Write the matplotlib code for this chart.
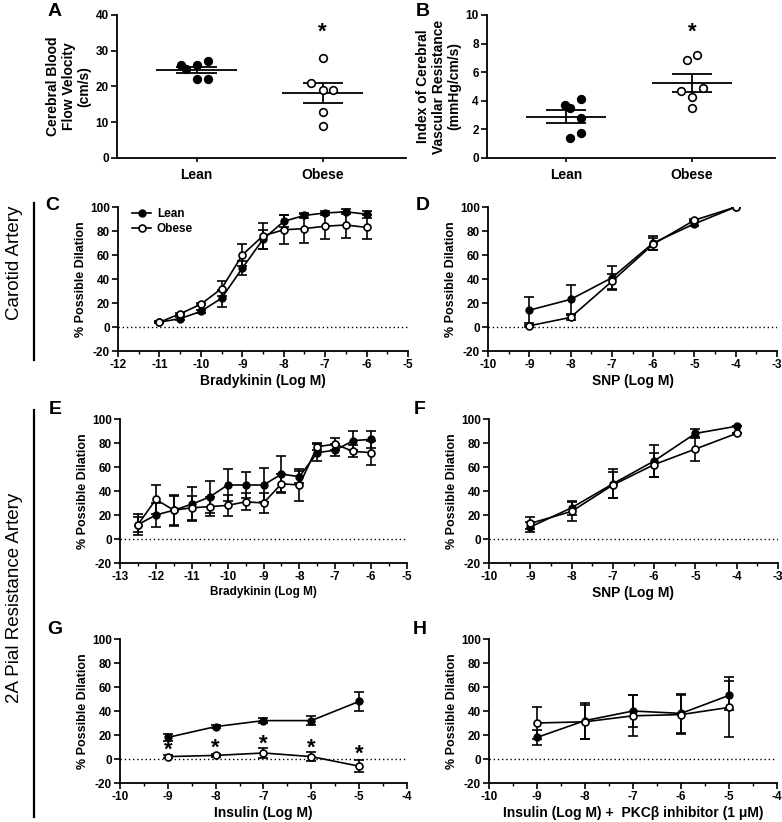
import matplotlib
matplotlib.use("Agg")
import matplotlib.pyplot as plt
import numpy as np
from matplotlib.lines import Line2D
from matplotlib.ticker import MultipleLocator

plt.rcParams["font.family"] = ["Liberation Sans", "DejaVu Sans"]
plt.rcParams["font.weight"] = "bold"
plt.rcParams["axes.labelweight"] = "bold"
plt.rcParams["axes.unicode_minus"] = False

W, H = 782, 822

# ---- panel A / B: individual animals ----
groups = ["Lean", "Obese"]
cbfv_lean = [26, 25, 26, 27, 22, 22]
cbfv_lean_dx = [-0.12, -0.08, 0.0, 0.09, 0.0, 0.09]
cbfv_obese = [28, 21, 19, 19, 13, 9]
cbfv_obese_dx = [0.0, -0.09, 0.0, 0.085, 0.0, 0.0]

cvr_lean = [3.68, 3.5, 4.15, 2.8, 1.77, 1.38]
cvr_lean_dx = [-0.01, 0.03, 0.12, 0.12, 0.12, 0.03]
cvr_obese = [6.88, 7.18, 4.7, 4.9, 4.3, 3.47]
cvr_obese_dx = [-0.04, 0.04, -0.09, 0.085, 0.0, 0.0]

# ---- panel C: carotid, bradykinin ----
c_x = [-11, -10.5, -10, -9.5, -9, -8.5, -8, -7.5, -7, -6.5, -6]
c_lean = [4, 7, 13, 24, 49, 73, 88, 93, 95, 96, 94]
c_lean_err = [1, 1, 1, 7, 6, 8, 5, 2, 2, 2, 3]
c_obese = [4, 11, 19, 32, 60, 76, 81, 82, 84, 85, 83]
c_obese_err = [1, 1, 1, 6, 9, 11, 12, 12, 11, 11, 10]

# ---- panel D: carotid, SNP ----
d_x = [-9, -8, -7, -6, -5, -4]
d_lean = [14, 23, 41, 70, 86, 100]
d_lean_err = [11, 12, 10, 6, 2, 0]
d_obese = [1, 8, 38, 69, 89, 100]
d_obese_err = [1, 2, 6, 5, 1, 0]

# ---- panel E: pial, bradykinin ----
e_x = [-12.5, -12, -11.5, -11, -10.5, -10, -9.5, -9, -8.5, -8, -7.5, -7, -6.5, -6]
e_lean = [12, 20, 24, 29, 35, 45, 45, 45, 54, 52, 72, 74, 82, 83]
e_lean_err = [9, 10, 13, 14, 13, 13, 11, 14, 15, 5, 7, 5, 8, 7]
e_obese = [12, 33, 24, 26, 27, 28, 31, 30, 46, 45, 77, 79, 73, 72]
e_obese_err = [6, 12, 12, 10, 8, 9, 7, 8, 8, 13, 3, 5, 5, 10]

# ---- panel F: pial, SNP ----
f_x = [-9, -8, -7, -6, -5, -4]
f_lean = [10, 26, 46, 65, 88, 94]
f_lean_err = [4, 6, 12, 13, 4, 0]
f_obese = [13, 23, 45, 62, 75, 88]
f_obese_err = [5, 8, 11, 10, 10, 0]

# ---- panel G: pial, insulin ----
g_x = [-9, -8, -7, -6, -5]
g_lean = [18, 27, 32, 32, 48]
g_lean_err = [3, 1, 2, 4, 8]
g_obese = [2, 3, 5, 2, -6]
g_obese_err = [1, 1, 4.5, 3.5, 5]
g_star_y = [7.5, 9, 12, 9, 4]

# ---- panel H: pial, insulin + PKC-beta inhibitor ----
h_x = [-9, -8, -7, -6, -5]
h_lean = [18, 32, 40, 38, 53]
h_lean_err = [6, 15, 13, 16, 12]
h_obese = [30, 31, 36, 37, 43]
h_obese_err = [13, 14, 17, 16.5, 25]


def rect(left, right, top, bottom):
    return [left / W, 1 - bottom / H, (right - left) / W, (bottom - top) / H]


def style(ax):
    for s in ("top", "right"):
        ax.spines[s].set_visible(False)
    for s in ("left", "bottom"):
        ax.spines[s].set_linewidth(1.3)
    ax.tick_params(direction="out", width=1.2, length=4, labelsize=8.5, pad=2)
    ax.tick_params(which="minor", direction="out", width=1.0, length=2.5)


def scatter_panel(ax, lean, lean_dx, obese, obese_dx, ylim, ystep, ylabel, star_y):
    style(ax)
    for i, (vals, dx, face) in enumerate(
        [(lean, lean_dx, "black"), (obese, obese_dx, "white")]
    ):
        vals = np.array(vals, dtype=float)
        m = vals.mean()
        sem = vals.std(ddof=1) / np.sqrt(len(vals))
        ax.hlines(m, i - 0.32, i + 0.32, color="black", lw=1.3, zorder=2)
        ax.hlines([m - sem, m + sem], i - 0.16, i + 0.16, color="black", lw=1.3, zorder=2)
        ax.vlines(i, m - sem, m + sem, color="black", lw=1.3, zorder=2)
        ax.plot(np.array(dx) + i, vals, "o", ms=5.5, mfc=face, mec="black",
                mew=1.2, ls="none", zorder=3)
    ax.text(1, star_y, "*", ha="center", va="center", fontsize=16)
    ax.set_xlim(-0.63, 1.66)
    ax.set_ylim(*ylim)
    ax.yaxis.set_major_locator(MultipleLocator(ystep))
    ax.set_xticks([0, 1])
    ax.set_xticklabels(groups, fontsize=10)
    ax.tick_params(axis="x", length=3, pad=4)
    ax.set_ylabel(ylabel, fontsize=10, linespacing=1.15, labelpad=3)


def curve_panel(ax, x, lean, lean_err, obese, obese_err, xlim, xlabel, xfs=10):
    style(ax)
    ax.axhline(0, color="black", lw=1.0, ls=(0, (1, 2)), zorder=1)
    ax.errorbar(x, lean, yerr=lean_err, fmt="-o", color="black", ms=5, mfc="black",
                mec="black", lw=1.2, elinewidth=1.2, capsize=3.5, capthick=1.2, zorder=3)
    ax.errorbar(x, obese, yerr=obese_err, fmt="-o", color="black", ms=5, mfc="white",
                mec="black", mew=1.2, lw=1.2, elinewidth=1.2, capsize=3.5, capthick=1.2,
                zorder=4)
    ax.set_xlim(*xlim)
    ax.set_ylim(-20, 100)
    ax.xaxis.set_major_locator(MultipleLocator(1))
    ax.xaxis.set_minor_locator(MultipleLocator(0.5))
    ax.yaxis.set_major_locator(MultipleLocator(20))
    ax.set_ylabel("% Possible Dilation", fontsize=9, labelpad=2)
    ax.set_xlabel(xlabel, fontsize=xfs, labelpad=2)


fig = plt.figure(figsize=(W / 100, H / 100), dpi=100)

axA = fig.add_axes(rect(117, 406, 15, 158))
scatter_panel(axA, cbfv_lean, cbfv_lean_dx, cbfv_obese, cbfv_obese_dx, (0, 40), 10,
              "Cerebral Blood\nFlow Velocity\n(cm/s)", 35.3)

axB = fig.add_axes(rect(487, 775, 15, 158))
scatter_panel(axB, cvr_lean, cvr_lean_dx, cvr_obese, cvr_obese_dx, (0, 10), 2,
              "Index of Cerebral\nVascular Resistance\n(mmHg/cm/s)", 8.8)

axC = fig.add_axes(rect(118, 408, 207, 351))
curve_panel(axC, c_x, c_lean, c_lean_err, c_obese, c_obese_err, (-12, -5),
            "Bradykinin (Log M)")
handles = [
    Line2D([], [], color="black", marker="o", ms=5, mfc="black", lw=1.2),
    Line2D([], [], color="black", marker="o", ms=5, mfc="white", mew=1.2, lw=1.2),
]
axC.legend(handles, groups, loc="upper left", bbox_to_anchor=(0.02, 1.05), frameon=False,
           fontsize=8.5, handlelength=1.6, handletextpad=0.5, labelspacing=0.25,
           borderaxespad=0.3)

axD = fig.add_axes(rect(488, 777, 207, 351))
curve_panel(axD, d_x, d_lean, d_lean_err, d_obese, d_obese_err, (-10, -3),
            "SNP (Log M)")

axE = fig.add_axes(rect(120, 407, 419, 563))
curve_panel(axE, e_x, e_lean, e_lean_err, e_obese, e_obese_err, (-13, -5),
            "Bradykinin (Log M)", xfs=8.5)

axF = fig.add_axes(rect(489, 778, 419, 563))
curve_panel(axF, f_x, f_lean, f_lean_err, f_obese, f_obese_err, (-10, -3),
            "SNP (Log M)")

axG = fig.add_axes(rect(120, 407, 639, 783))
curve_panel(axG, g_x, g_lean, g_lean_err, g_obese, g_obese_err, (-10, -4),
            "Insulin (Log M)")
for xv, yv in zip(g_x, g_star_y):
    axG.text(xv, yv, "*", ha="center", va="center", fontsize=16)

axH = fig.add_axes(rect(489, 777, 639, 783))
curve_panel(axH, h_x, h_lean, h_lean_err, h_obese, h_obese_err, (-10, -4),
            "Insulin (Log M) +  PKCβ inhibitor (1 μM)")

# panel letters
letters = [("A", 55, 12), ("B", 423, 12), ("C", 52, 205), ("D", 423, 205),
           ("E", 55, 410), ("F", 420, 410), ("G", 55, 630), ("H", 420, 630)]
for lab, px, py in letters:
    fig.text(px / W, 1 - py / H, lab, fontsize=14, ha="center", va="center")

# row labels with bars
fig.text(15 / W, 1 - 263 / H, "Carotid Artery", rotation=90, fontsize=13.5,
         fontweight="normal", ha="center", va="center")
fig.text(15 / W, 1 - 598 / H, "2A Pial Resistance Artery", rotation=90, fontsize=13.5,
         fontweight="normal", ha="center", va="center")
fig.add_artist(Line2D([34 / W, 34 / W], [1 - 203 / H, 1 - 360 / H], color="black", lw=1.6))
fig.add_artist(Line2D([34 / W, 34 / W], [1 - 410 / H, 1 - 817 / H], color="black", lw=1.6))

fig.savefig("out.png", dpi=100)
